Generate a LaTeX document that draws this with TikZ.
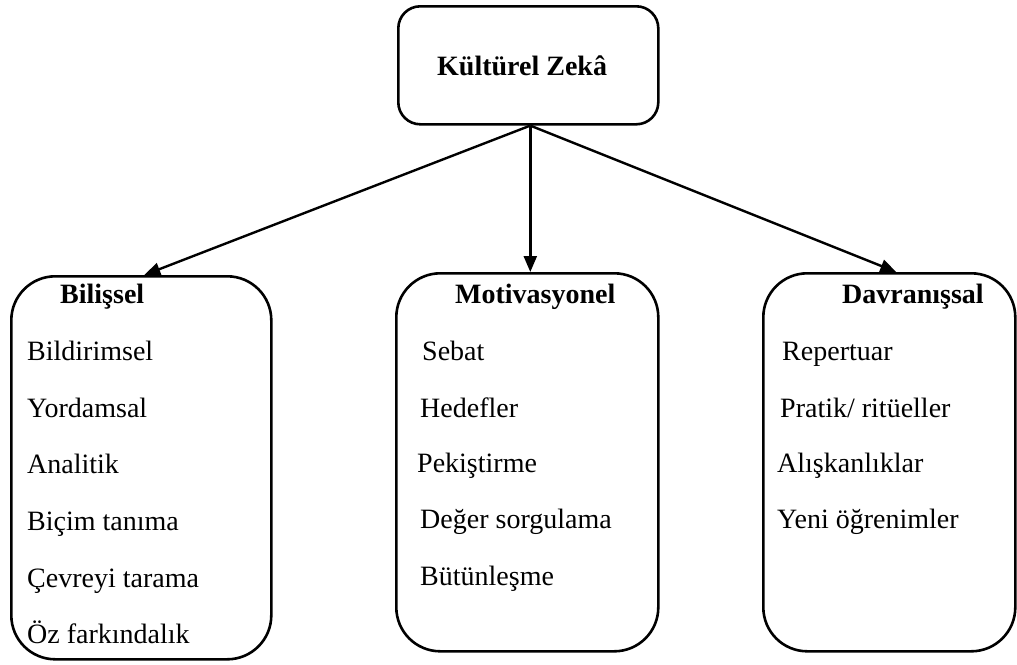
\documentclass[tikz,border=0pt]{standalone}
\usepackage{fontspec}
\setmainfont{Liberation Serif}
\usetikzlibrary{arrows.meta}
\begin{document}
\begin{tikzpicture}[x=1pt,y=-1pt,
  frame/.style={draw=black,line width=2.6pt,rounded corners=44pt,inner sep=0pt,anchor=north west},
  topframe/.style={draw=black,line width=2.6pt,rounded corners=22pt,inner sep=0pt,anchor=north west},
  head/.style={font=\fontsize{28}{32}\selectfont\bfseries,anchor=base west,inner sep=0pt},
  item/.style={font=\fontsize{28}{32}\selectfont,anchor=base west,inner sep=0pt},
  link/.style={line width=2.4pt,-{Triangle[length=16pt,width=13pt]}}]
\useasboundingbox (0,0) rectangle (1017,664);

% boxes
\node[topframe,minimum width=260pt,minimum height=118pt] (top) at (397,5) {};
\node[frame,minimum width=260pt,minimum height=383pt] (lb) at (10,275) {};
\node[frame,minimum width=262pt,minimum height=378pt] (mb) at (395,272) {};
\node[frame,minimum width=252pt,minimum height=378pt] (rb) at (762,272) {};

% title
\node[head] (title) at (437,75) {Kültürel Zekâ};

% left column
\node[head] (h1) at (60,303) {Bilişsel};
\node[item] (a1) at (27,360) {Bildirimsel};
\node[item] (a2) at (27,417) {Yordamsal};
\node[item] (a3) at (27,473) {Analitik};
\node[item] (a4) at (27,530) {Biçim tanıma};
\node[item] (a5) at (27,587) {Çevreyi tarama};
\node[item] (a6) at (27,643) {Öz farkındalık};

% middle column
\node[head] (h2) at (455,303) {Motivasyonel};
\node[item] (b1) at (422,360) {Sebat};
\node[item] (b2) at (420,417) {Hedefler};
\node[item] (b3) at (417,472) {Pekiştirme};
\node[item] (b4) at (420,528) {Değer sorgulama};
\node[item] (b5) at (420,585) {Bütünleşme};

% right column
\node[head] (h3) at (842,303) {Davranışsal};
\node[item] (c1) at (782,360) {Repertuar};
\node[item] (c2) at (780,417) {Pratik/ ritüeller};
\node[item] (c3) at (777,472) {Alışkanlıklar};
\node[item] (c4) at (777,528) {Yeni öğrenimler};

% connectors
\coordinate (src) at ([xshift=2pt]top.south);
\draw[link] (src) -- ([xshift=3pt]lb.north);
\draw[link] (src) -- ([xshift=3pt]mb.north);
\draw[link] (src) -- ([xshift=7pt]rb.north);
\end{tikzpicture}
\end{document}
